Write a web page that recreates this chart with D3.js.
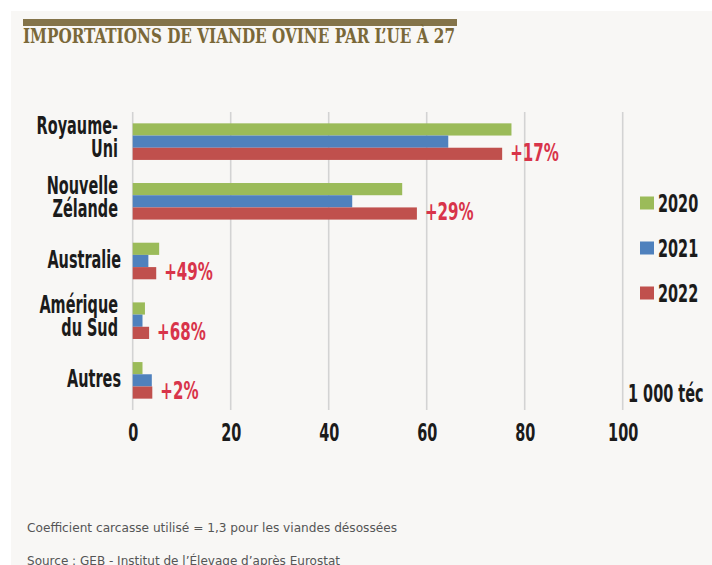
<!DOCTYPE html>
<html>
<head>
<meta charset="utf-8">
<script src="https://cdn.jsdelivr.net/npm/d3@7"></script>
<style>
  html, body { margin: 0; padding: 0; background: #ffffff; }
  svg { display: block; }
  .lbl { font-family: "DejaVu Sans Condensed", "DejaVu Sans", sans-serif; font-stretch: condensed; font-weight: bold; fill: #1b1b1b; }
  .pct { font-family: "DejaVu Sans Condensed", "DejaVu Sans", sans-serif; font-stretch: condensed; font-weight: bold; fill: #d8344a; }
  .title { font-family: "DejaVu Serif Condensed", "DejaVu Serif", serif; font-stretch: condensed; font-weight: bold; fill: #7a6838; }
  .note { font-family: "DejaVu Sans", sans-serif; fill: #555555; }
</style>
</head>
<body>
<script>
// ---- data ----
const categories = [["Royaume-", "Uni"], ["Nouvelle", "Zélande"], ["Australie"], ["Amérique", "du Sud"], ["Autres"]];
const years = ["2020", "2021", "2022"];
const values2020 = [77.3, 55.0, 5.4, 2.5, 2.0];
const values2021 = [64.4, 44.8, 3.2, 2.0, 3.9];
const values2022 = [75.4, 58.0, 4.8, 3.35, 4.0];
const changeLabels = ["+17%", "+29%", "+49%", "+68%", "+2%"];
const xTicks = [0, 20, 40, 60, 80, 100];
const colors = ["#9bbb59", "#4f81bd", "#c0504d"];
const titleText = "IMPORTATIONS DE VIANDE OVINE PAR L\u2019UE \u00C0 27";
const unitText = "1 000 t\u00e9c";
const noteText = "Coefficient carcasse utilis\u00e9 = 1,3 pour les viandes d\u00e9soss\u00e9es";
const sourceText = "Source : GEB - Institut de l\u2019\u00C9levage d\u2019apr\u00e8s Eurostat";

const series = [values2020, values2021, values2022];
const catKeys = categories.map(c => c.join(" "));

const W = 712, H = 565;
const SX = 0.67; // horizontal condensation for the narrow display font

const svg = d3.select("body").append("svg").attr("width", W).attr("height", H);

// panel
svg.append("rect").attr("x", 11).attr("y", 11).attr("width", W - 11).attr("height", H - 11).attr("fill", "#f8f7f5");

// title bar + title
svg.append("rect").attr("x", 23).attr("y", 19).attr("width", 434).attr("height", 7).attr("fill", "#84744a");
svg.append("text").attr("class", "title").attr("x", 23).attr("y", 42.5)
  .attr("font-size", 20).attr("textLength", 432).attr("lengthAdjust", "spacingAndGlyphs")
  .text(titleText);

// scales
const x = d3.scaleLinear().domain([0, 100]).range([132.7, 622.7]);
const y = d3.scaleBand().domain(catKeys).range([112, 410]).paddingInner(0.387).paddingOuter(0.19);
const yInner = d3.scaleBand().domain(years).range([0, y.bandwidth()]);

// gridlines
svg.append("g").selectAll("line").data(xTicks).join("line")
  .attr("x1", d => x(d)).attr("x2", d => x(d))
  .attr("y1", 112).attr("y2", 410)
  .attr("stroke", "#d3d3d3").attr("stroke-width", 1.6);

// bars
const groups = svg.append("g").selectAll("g").data(catKeys).join("g")
  .attr("transform", d => `translate(0,${y(d)})`);
groups.selectAll("rect").data((d, i) => years.map((yr, j) => ({ yr, j, v: series[j][i] }))).join("rect")
  .attr("x", x(0))
  .attr("y", d => yInner(d.yr))
  .attr("width", d => x(d.v) - x(0))
  .attr("height", yInner.bandwidth())
  .attr("fill", d => colors[d.j]);

// helper for condensed text
function ctext(sel, tx, ty, str, cls, size, anchor, sx) {
  const g = sel.append("g").attr("transform", `translate(${tx},${ty}) scale(${sx},1)`);
  g.append("text").attr("class", cls).attr("font-size", size).attr("text-anchor", anchor).text(str);
  return g;
}

// category labels
categories.forEach((lines, i) => {
  const c = y(catKeys[i]) + y.bandwidth() / 2;
  if (lines.length === 1) {
    ctext(svg, 121, c + 6.5, lines[0], "lbl", 24, "end", SX);
  } else {
    ctext(svg, 118, c - 7.3, lines[0], "lbl", 24, "end", SX);
    ctext(svg, 118, c + 15.4, lines[1], "lbl", 24, "end", SX);
  }
});

// change labels
changeLabels.forEach((t, i) => {
  const redY = y(catKeys[i]) + yInner("2022") + yInner.bandwidth() / 2;
  ctext(svg, x(values2022[i]) + 8, redY + 6.8, t, "pct", 25, "start", 0.67);
});

// x axis
const axis = svg.append("g").attr("transform", "translate(0,410)")
  .call(d3.axisBottom(x).tickValues(xTicks).tickSize(0).tickFormat(d3.format("d")));
axis.select(".domain").remove();
axis.selectAll("text")
  .attr("class", "lbl").attr("font-size", 24).attr("fill", "#1b1b1b")
  .attr("y", 31).attr("dy", 0)
  .attr("transform", `scale(${SX},1)`)
  .style("font-family", "'DejaVu Sans Condensed', 'DejaVu Sans', sans-serif");

// legend
years.forEach((yr, j) => {
  const cy = 203 + j * 45;
  svg.append("rect").attr("x", 640).attr("y", cy - 6.5).attr("width", 14).attr("height", 13).attr("fill", colors[j]);
  ctext(svg, 658, cy + 9, yr, "lbl", 24, "start", SX);
});

// unit
ctext(svg, 628, 402, unitText, "lbl", 24, "start", SX);

// notes
svg.append("text").attr("class", "note").attr("x", 27).attr("y", 531.5)
  .attr("font-size", 12.5).attr("textLength", 370).attr("lengthAdjust", "spacingAndGlyphs")
  .text(noteText);
svg.append("text").attr("class", "note").attr("x", 27).attr("y", 565)
  .attr("font-size", 12.5).attr("textLength", 313).attr("lengthAdjust", "spacingAndGlyphs")
  .text(sourceText);
</script>
</body>
</html>
